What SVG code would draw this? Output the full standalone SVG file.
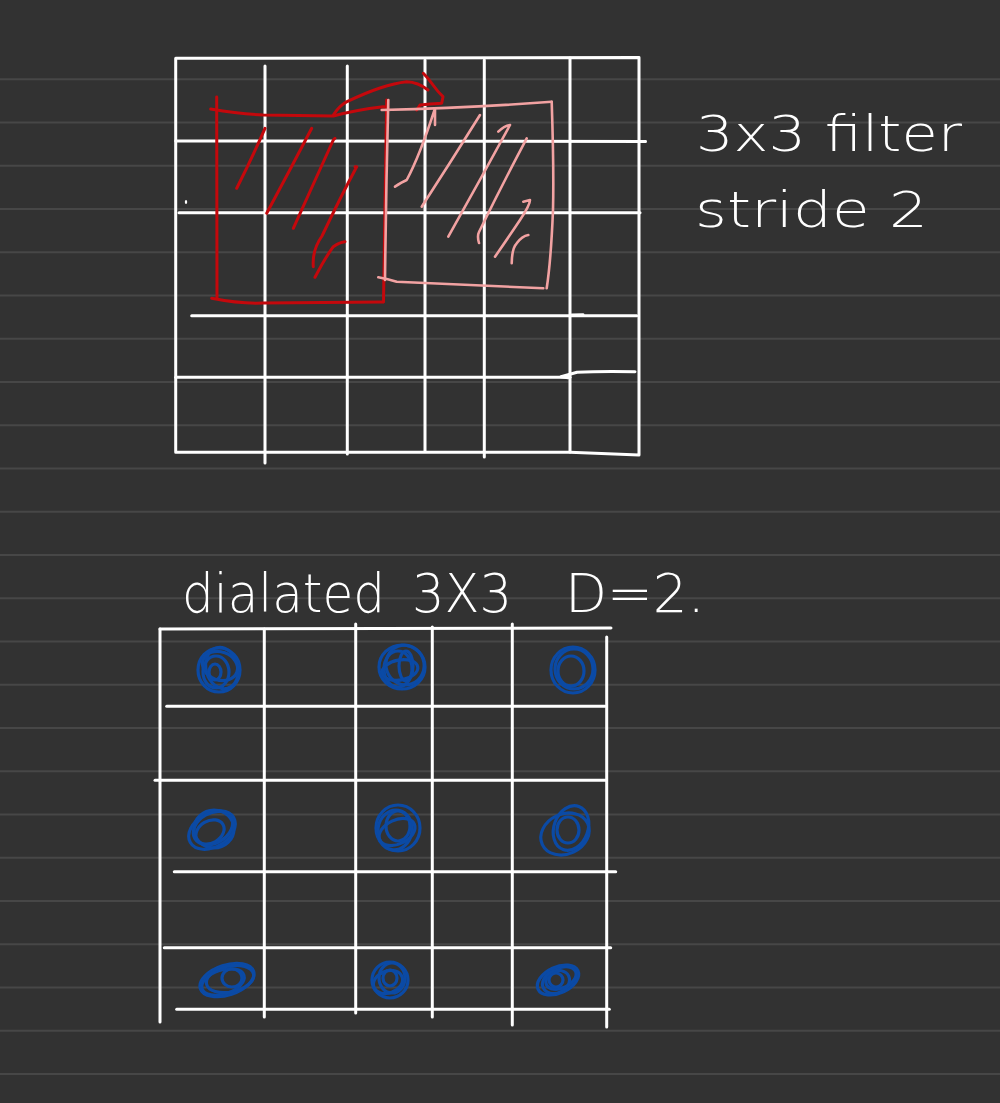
<svg xmlns="http://www.w3.org/2000/svg" width="1000" height="1103" viewBox="0 0 1000 1103">
<style>
.rule{stroke:#474747;stroke-width:2;fill:none}
.w{stroke:#ffffff;stroke-width:3;fill:none;stroke-linecap:round;stroke-linejoin:round}
.red{stroke:#c4080c;stroke-width:3;fill:none;stroke-linecap:round;stroke-linejoin:round}
.pink{stroke:#f2a2a2;stroke-width:2.6;fill:none;stroke-linecap:round;stroke-linejoin:round}
.blue{stroke:#0b4aa5;stroke-width:3.2;fill:none}
.txt{fill:#ffffff;font-family:"DejaVu Sans","Liberation Sans",sans-serif;font-weight:300}
</style>
<rect width="1000" height="1103" fill="#323232"/>
<g id="ruled-paper">
<line class="rule" x1="0" y1="79.3" x2="1000" y2="79.3"/>
<line class="rule" x1="0" y1="122.5" x2="1000" y2="122.5"/>
<line class="rule" x1="0" y1="165.8" x2="1000" y2="165.8"/>
<line class="rule" x1="0" y1="209" x2="1000" y2="209"/>
<line class="rule" x1="0" y1="252.3" x2="1000" y2="252.3"/>
<line class="rule" x1="0" y1="295.5" x2="1000" y2="295.5"/>
<line class="rule" x1="0" y1="338.8" x2="1000" y2="338.8"/>
<line class="rule" x1="0" y1="382" x2="1000" y2="382"/>
<line class="rule" x1="0" y1="425.3" x2="1000" y2="425.3"/>
<line class="rule" x1="0" y1="468.5" x2="1000" y2="468.5"/>
<line class="rule" x1="0" y1="511.8" x2="1000" y2="511.8"/>
<line class="rule" x1="0" y1="555" x2="1000" y2="555"/>
<line class="rule" x1="0" y1="598.3" x2="1000" y2="598.3"/>
<line class="rule" x1="0" y1="641.5" x2="1000" y2="641.5"/>
<line class="rule" x1="0" y1="684.8" x2="1000" y2="684.8"/>
<line class="rule" x1="0" y1="728" x2="1000" y2="728"/>
<line class="rule" x1="0" y1="771.3" x2="1000" y2="771.3"/>
<line class="rule" x1="0" y1="814.5" x2="1000" y2="814.5"/>
<line class="rule" x1="0" y1="857.8" x2="1000" y2="857.8"/>
<line class="rule" x1="0" y1="901" x2="1000" y2="901"/>
<line class="rule" x1="0" y1="944.3" x2="1000" y2="944.3"/>
<line class="rule" x1="0" y1="987.5" x2="1000" y2="987.5"/>
<line class="rule" x1="0" y1="1030.8" x2="1000" y2="1030.8"/>
<line class="rule" x1="0" y1="1074" x2="1000" y2="1074"/>
</g>
<g id="stride-grid">
<path class="w" d="M175.7,58.3 L639,57.5 L639,455 L570,452.3 L175.7,452.3 Z"/>
<line class="w" x1="265" y1="66" x2="265" y2="463"/>
<line class="w" x1="347.3" y1="66" x2="347.3" y2="454"/>
<line class="w" x1="425" y1="60" x2="425" y2="451"/>
<line class="w" x1="484.3" y1="60" x2="484.3" y2="457"/>
<line class="w" x1="570" y1="58" x2="570" y2="452"/>
<line class="w" x1="175.7" y1="141" x2="645.5" y2="141.5"/>
<line class="w" x1="179" y1="212.7" x2="640" y2="212.7"/>
<line class="w" x1="191.7" y1="315.7" x2="636.7" y2="315.7"/>
<line class="w" x1="571.5" y1="315" x2="583" y2="314.8"/>
<line class="w" x1="175.7" y1="377.3" x2="570" y2="377.3"/>
<path class="w" d="M568,377.8 L561,376.8 L577,372.3 Q600,371 635,371.7"/>
<ellipse cx="186" cy="202" rx="1.2" ry="2" fill="#ffffff"/>
</g>
<g id="filter-1">
<path class="red" d="M210.7,109 Q240,114 263.3,115 L333.3,116 Q355,110 383,106.7 L388,107"/>
<path class="red" d="M216.7,97 L217,298"/>
<path class="red" d="M211.7,298.3 Q240,304 263,303 L383,302"/>
<path class="red" d="M386.7,100 L383.5,302"/>
<path class="red" d="M333.3,115 Q340,105 347,101.7 Q365,93 380,88 Q395,83 406.7,81.7 Q418,82 428,90"/>
<path class="red" d="M423.3,73.3 Q428,78 433,85 Q438,92 443,96.7 L441.7,103.3 Q430,104 420,105 L416.7,110"/>
<path class="red" d="M236.7,188.3 Q252,158 265,128.3"/>
<path class="red" d="M266.7,213.3 Q290,170 311.7,128.3"/>
<path class="red" d="M293.3,228.3 Q315,180 333.3,140 L335,138.3"/>
<path class="red" d="M313.3,266.7 Q312,250 322,236 Q340,198 356.7,166.7 L355,166.7"/>
<path class="red" d="M315,277.3 Q325,258 333.3,246.7 Q340,242 345,241.7"/>
</g>
<g id="filter-2">
<path class="pink" d="M381.7,110 Q470,108 551.7,101.7"/>
<path class="pink" d="M551.7,101.7 Q554,170 553,210 Q551,260 546.7,288.3"/>
<path class="pink" d="M378.3,277.3 Q388,279 396.7,281.7 Q470,285 543.3,288.3"/>
<path class="pink" d="M388.3,100 Q386,190 385,280"/>
<path class="pink" d="M395,186.7 Q402,182 406.7,180 Q420,155 435,108.3 L435,125"/>
<path class="pink" d="M421.7,206.7 Q452,160 480,115"/>
<path class="pink" d="M448.3,236.7 Q480,180 510,125 Q504,126 498.3,131.7"/>
<path class="pink" d="M479,243 Q477,236 479,232 Q503,183 526.7,138.3"/>
<path class="pink" d="M495,256.7 Q510,235 520,220 Q530,205 530,200 L523.3,201.7"/>
<path class="pink" d="M511.7,263.3 Q512,248 516.7,243.3 Q522,236 528.3,235"/>
</g>
<g id="label-stride">
<text class="txt" x="696" y="151" font-size="50" textLength="266" lengthAdjust="spacingAndGlyphs">3x3 filter</text>
<text class="txt" x="695" y="227" font-size="50" textLength="233" lengthAdjust="spacingAndGlyphs">stride 2</text>
</g>
<g id="label-dilated">
<text class="txt" y="612" font-size="54"><tspan x="182" textLength="203" lengthAdjust="spacingAndGlyphs">dialated</tspan> <tspan x="412" textLength="100" lengthAdjust="spacingAndGlyphs">3X3</tspan> <tspan x="565" textLength="140" lengthAdjust="spacingAndGlyphs">D=2.</tspan></text>
</g>
<g id="dilated-grid">
<line class="w" x1="160" y1="629" x2="160" y2="1022"/>
<line class="w" x1="160" y1="629" x2="611" y2="628"/>
<line class="w" x1="264.3" y1="629" x2="264.3" y2="1017"/>
<line class="w" x1="355.7" y1="624" x2="355.7" y2="1013"/>
<line class="w" x1="432.3" y1="627" x2="432.3" y2="1017"/>
<line class="w" x1="512.3" y1="624" x2="512.3" y2="1025"/>
<line class="w" x1="606.7" y1="637" x2="606.7" y2="1027"/>
<line class="w" x1="166.7" y1="706.3" x2="605" y2="706.3"/>
<line class="w" x1="155" y1="780.3" x2="605.7" y2="780.3"/>
<line class="w" x1="174.3" y1="871.7" x2="615.7" y2="871.7"/>
<line class="w" x1="164.3" y1="947.7" x2="610.7" y2="947.7"/>
<line class="w" x1="176.7" y1="1009.3" x2="609.3" y2="1009.3"/>
</g>
<g id="dilated-taps">
<g id="tap-1">
<ellipse class="blue" cx="219" cy="670" rx="21" ry="22"/>
<ellipse class="blue" cx="222" cy="668" rx="16" ry="21" transform="rotate(-15 222 668)"/>
<ellipse class="blue" cx="216" cy="672" rx="13" ry="16"/>
<ellipse class="blue" cx="220" cy="666" rx="18" ry="14" transform="rotate(20 220 666)"/>
<ellipse class="blue" cx="215" cy="672" rx="6" ry="8"/>
</g>
<g id="tap-2">
<ellipse class="blue" cx="402" cy="667" rx="23" ry="22"/>
<ellipse class="blue" cx="405" cy="665" rx="19" ry="20" transform="rotate(-20 405 665)"/>
<ellipse class="blue" cx="398" cy="669" rx="14" ry="18"/>
<ellipse class="blue" cx="400" cy="670" rx="18" ry="10" transform="rotate(-10 400 670)"/>
<ellipse class="blue" cx="406" cy="666" rx="7" ry="15"/>
</g>
<g id="tap-3">
<ellipse class="blue" cx="573" cy="670" rx="22" ry="23"/>
<ellipse class="blue" cx="574" cy="669" rx="19" ry="20" stroke-width="4.5"/>
<ellipse class="blue" cx="571" cy="671" rx="13" ry="15"/>
</g>
<g id="tap-4">
<ellipse class="blue" cx="212" cy="830" rx="25" ry="17" transform="rotate(-30 212 830)"/>
<ellipse class="blue" cx="213" cy="828" rx="21" ry="15" transform="rotate(-30 213 828)" stroke-width="4"/>
<ellipse class="blue" cx="210" cy="832" rx="15" ry="11" transform="rotate(-30 210 832)"/>
<ellipse class="blue" cx="214" cy="829" rx="20" ry="19"/>
</g>
<g id="tap-5">
<ellipse class="blue" cx="398" cy="828" rx="22" ry="23"/>
<ellipse class="blue" cx="395" cy="830" rx="17" ry="20" transform="rotate(10 395 830)"/>
<ellipse class="blue" cx="398" cy="826" rx="12" ry="15"/>
<ellipse class="blue" cx="397" cy="832" rx="19" ry="12" transform="rotate(-25 397 832)"/>
</g>
<g id="tap-6">
<ellipse class="blue" cx="565" cy="834" rx="25" ry="20" transform="rotate(-25 565 834)"/>
<ellipse class="blue" cx="571" cy="828" rx="17" ry="23" transform="rotate(20 571 828)"/>
<ellipse class="blue" cx="568" cy="830" rx="11" ry="13"/>
</g>
<g id="tap-7">
<ellipse class="blue" cx="227" cy="980" rx="28" ry="15" transform="rotate(-18 227 980)"/>
<ellipse class="blue" cx="223" cy="982" rx="22" ry="12" transform="rotate(-18 223 982)"/>
<ellipse class="blue" cx="230" cy="979" rx="24" ry="13" transform="rotate(-12 230 979)"/>
<ellipse class="blue" cx="232" cy="978" rx="10" ry="9"/>
</g>
<g id="tap-8">
<ellipse class="blue" cx="390" cy="980" rx="18" ry="18"/>
<ellipse class="blue" cx="392" cy="978" rx="13" ry="15"/>
<ellipse class="blue" cx="388" cy="982" rx="15" ry="11" transform="rotate(-20 388 982)"/>
<ellipse class="blue" cx="390" cy="978" rx="7" ry="8"/>
</g>
<g id="tap-9">
<ellipse class="blue" cx="558" cy="980" rx="22" ry="13" transform="rotate(-25 558 980)"/>
<ellipse class="blue" cx="561" cy="978" rx="16" ry="10" transform="rotate(-25 561 978)"/>
<ellipse class="blue" cx="556" cy="982" rx="14" ry="11" transform="rotate(-25 556 982)"/>
<ellipse class="blue" cx="556" cy="980" rx="7" ry="7"/>
</g>
</g>
</svg>
